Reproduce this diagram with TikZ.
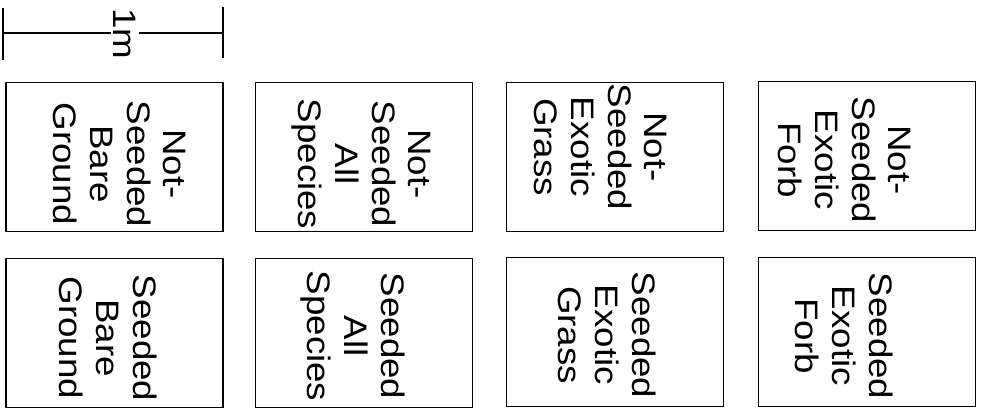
\documentclass[tikz,border=0pt]{standalone}
\usepackage{fontspec}
\setmainfont{Liberation Sans}
\usepackage{graphicx}
\newcommand\lbltxt[1]{\scalebox{1.13}[1]{\begin{tabular}{@{}c@{}}#1\end{tabular}}}
\tikzset{
  plotbox/.style={draw, line width=1.8pt, minimum width=217pt, minimum height=149pt, inner sep=0pt},
  lbl/.style={rotate=-90, font=\fontsize{32.5}{36.7}\selectfont, inner sep=0pt},
  barline/.style={line width=1.8pt},
}
\begin{document}
\begin{tikzpicture}[x=1pt,y=-1pt]
\useasboundingbox (0,0) rectangle (989,411);
% scale bar
\coordinate (sl) at (3,33);
\coordinate (sr) at (223,33);
\coordinate (slt) at (3,8);
\coordinate (slb) at (3,60);
\coordinate (srt) at (223,7);
\coordinate (srb) at (223,58);
\draw[barline] (sl) -- (sr);
\draw[barline] (slt) -- (slb);
\draw[barline] (srt) -- (srb);
\node[lbl, fill=white, inner xsep=1pt, inner ysep=3pt] (scl) at (125,34) {\scalebox{1.13}[1]{1m}};
% boxes
\node[plotbox] (a1) at (114.5,157) {};
\node[plotbox] (a2) at (364,157) {};
\node[plotbox] (a3) at (615,157) {};
\node[plotbox] (a4) at (867,156) {};
\node[plotbox] (b1) at (114.5,333) {};
\node[plotbox] (b2) at (364,333) {};
\node[plotbox] (b3) at (615,332) {};
\node[plotbox] (b4) at (867,332) {};
% labels
\node[lbl] (la1) at (116,164) {\lbltxt{Not-\\Seeded\\Bare\\Ground}};
\node[lbl] (la2) at (361,164) {\lbltxt{Not-\\Seeded\\All\\Species}};
\node[lbl] (la3) at (597,147) {\lbltxt{Not-\\Seeded\\Exotic\\Grass}};
\node[lbl] (la4) at (841,160) {\lbltxt{Not-\\Seeded\\Exotic\\Forb}};
\node[lbl] (lb1) at (104,338) {\lbltxt{Seeded\\Bare\\Ground}};
\node[lbl] (lb2) at (352,336) {\lbltxt{Seeded\\All\\Species}};
\node[lbl] (lb3) at (603,335) {\lbltxt{Seeded\\Exotic\\Grass}};
\node[lbl] (lb4) at (840,336) {\lbltxt{Seeded\\Exotic\\Forb}};
\end{tikzpicture}
\end{document}
